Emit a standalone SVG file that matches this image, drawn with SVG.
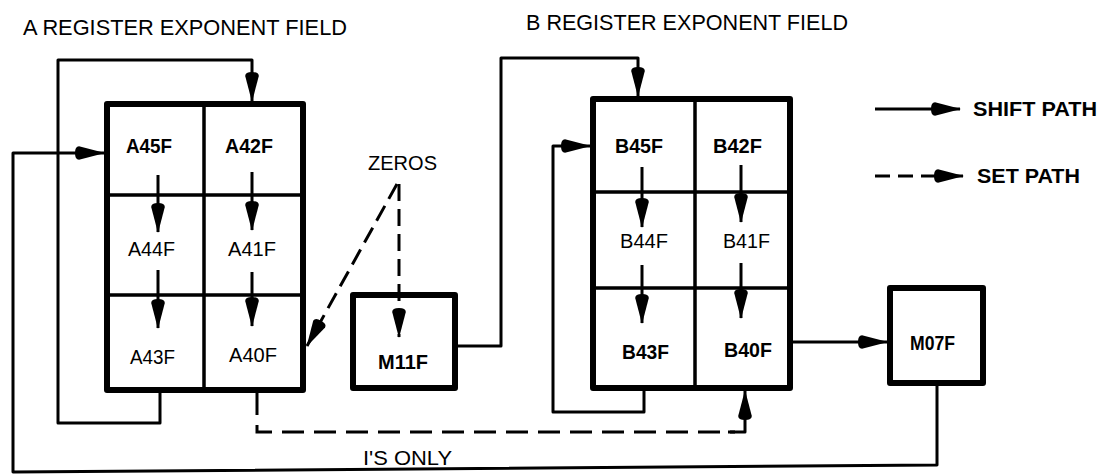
<svg xmlns="http://www.w3.org/2000/svg" width="1100" height="474" viewBox="0 0 1100 474">
<style>
.bg{fill:#fff}
.title{font-family:"Liberation Sans",Arial,sans-serif;font-size:22px;fill:#000}
.lbl{font-family:"Liberation Sans",Arial,sans-serif;font-size:20px;fill:#000}
.lblb{font-family:"Liberation Sans",Arial,sans-serif;font-size:20px;font-weight:bold;fill:#000}
.box{fill:#fff;stroke:#000;stroke-width:6;stroke-linejoin:round}
.div{fill:none;stroke:#000;stroke-width:3.5}
.ln{fill:none;stroke:#000;stroke-width:3;stroke-linejoin:round}
.dash{fill:none;stroke:#000;stroke-width:3;stroke-dasharray:22 10}
.dash2{fill:none;stroke:#000;stroke-width:3;stroke-dasharray:17 8}
</style>
<defs>
<marker id="ah" markerUnits="userSpaceOnUse" markerWidth="30" markerHeight="16" viewBox="0 0 30 16" refX="29" refY="8" orient="auto">
<path d="M0,8 Q0,1.2 4,1.2 L30,8 L4,14.8 Q0,14.8 0,8 Z" fill="#000"/>
</marker>
</defs>
<rect class="bg" x="0" y="0" width="1100" height="474"/>

<text class="title" x="23" y="35" textLength="324" lengthAdjust="spacingAndGlyphs">A REGISTER EXPONENT FIELD</text>
<text class="title" x="526" y="30" textLength="322" lengthAdjust="spacingAndGlyphs">B REGISTER EXPONENT FIELD</text>

<g id="regA">
<rect class="box" x="107" y="104" width="196" height="286"/>
<path class="div" d="M204,104 V390 M107,195 H303 M107,295 H303"/>
</g>
<g id="A45F"><text class="lblb" x="126" y="153" textLength="46" lengthAdjust="spacingAndGlyphs">A45F</text></g>
<g id="A42F"><text class="lblb" x="225" y="153" textLength="48" lengthAdjust="spacingAndGlyphs">A42F</text></g>
<g id="A44F"><text class="lbl" x="128" y="256" textLength="47" lengthAdjust="spacingAndGlyphs">A44F</text></g>
<g id="A41F"><text class="lbl" x="228" y="256" textLength="48" lengthAdjust="spacingAndGlyphs">A41F</text></g>
<g id="A43F"><text class="lbl" x="130" y="364" textLength="45" lengthAdjust="spacingAndGlyphs">A43F</text></g>
<g id="A40F"><text class="lbl" x="229" y="362" textLength="48" lengthAdjust="spacingAndGlyphs">A40F</text></g>

<g id="regB">
<rect class="box" x="593" y="99" width="197" height="289"/>
<path class="div" d="M695,99 V388 M593,192 H790 M593,288 H790"/>
</g>
<g id="B45F"><text class="lblb" x="615" y="153" textLength="48" lengthAdjust="spacingAndGlyphs">B45F</text></g>
<g id="B42F"><text class="lblb" x="713" y="153" textLength="49" lengthAdjust="spacingAndGlyphs">B42F</text></g>
<g id="B44F"><text class="lbl" x="620" y="248" textLength="48" lengthAdjust="spacingAndGlyphs">B44F</text></g>
<g id="B41F"><text class="lbl" x="723" y="248" textLength="47" lengthAdjust="spacingAndGlyphs">B41F</text></g>
<g id="B43F"><text class="lblb" x="622" y="359" textLength="47" lengthAdjust="spacingAndGlyphs">B43F</text></g>
<g id="B40F"><text class="lblb" x="724" y="357" textLength="48" lengthAdjust="spacingAndGlyphs">B40F</text></g>

<g id="M11F">
<rect class="box" x="353" y="295" width="102" height="93"/>
<text class="lblb" x="378" y="369" textLength="50" lengthAdjust="spacingAndGlyphs">M11F</text>
</g>
<g id="M07F">
<rect class="box" x="890" y="288" width="93" height="95"/>
<text class="lblb" x="910" y="350" textLength="45" lengthAdjust="spacingAndGlyphs">M07F</text>
</g>

<g id="connectors">
<path class="ln" d="M160,393 V423 H58 V60 H252 V101" marker-end="url(#ah)"/>
<path class="ln" d="M937,386 V465 L13,472 V153 H104" marker-end="url(#ah)"/>
<path class="ln" d="M158,175 V232" marker-end="url(#ah)"/>
<path class="ln" d="M158,270 V328" marker-end="url(#ah)"/>
<path class="ln" d="M252,172 V230" marker-end="url(#ah)"/>
<path class="ln" d="M252,272 V326" marker-end="url(#ah)"/>
<path class="dash2" d="M397,184 L307,346" marker-end="url(#ah)"/>
<path class="dash2" d="M399,184 V337" marker-end="url(#ah)"/>
<path class="ln" d="M458,346 H501 V58 H638 V96" marker-end="url(#ah)"/>
<path class="ln" d="M644,391 V412 H553 V146 H590" marker-end="url(#ah)"/>
<path class="ln" d="M642,167 V227" marker-end="url(#ah)"/>
<path class="ln" d="M642,265 V323" marker-end="url(#ah)"/>
<path class="ln" d="M741,165 V222" marker-end="url(#ah)"/>
<path class="ln" d="M741,263 V318" marker-end="url(#ah)"/>
<path class="dash" d="M257,393 V432 H735"/>
<path class="ln" d="M728,432 H745 V391" marker-end="url(#ah)"/>
<path class="ln" d="M793,342 H887" marker-end="url(#ah)"/>
<path class="ln" d="M875,109 H960" marker-end="url(#ah)"/>
<path class="ln" d="M875,176 H890 M898,176 H913 M921,176 H963" marker-end="url(#ah)"/>
</g>

<g id="labels">
<text class="lbl" x="368" y="170" textLength="69" lengthAdjust="spacingAndGlyphs">ZEROS</text>
<text class="lbl" x="363" y="465" textLength="89" lengthAdjust="spacingAndGlyphs">I'S ONLY</text>
<text class="lblb" x="973" y="116" textLength="124" lengthAdjust="spacingAndGlyphs">SHIFT PATH</text>
<text class="lblb" x="977" y="183" textLength="103" lengthAdjust="spacingAndGlyphs">SET PATH</text>
</g>
</svg>
